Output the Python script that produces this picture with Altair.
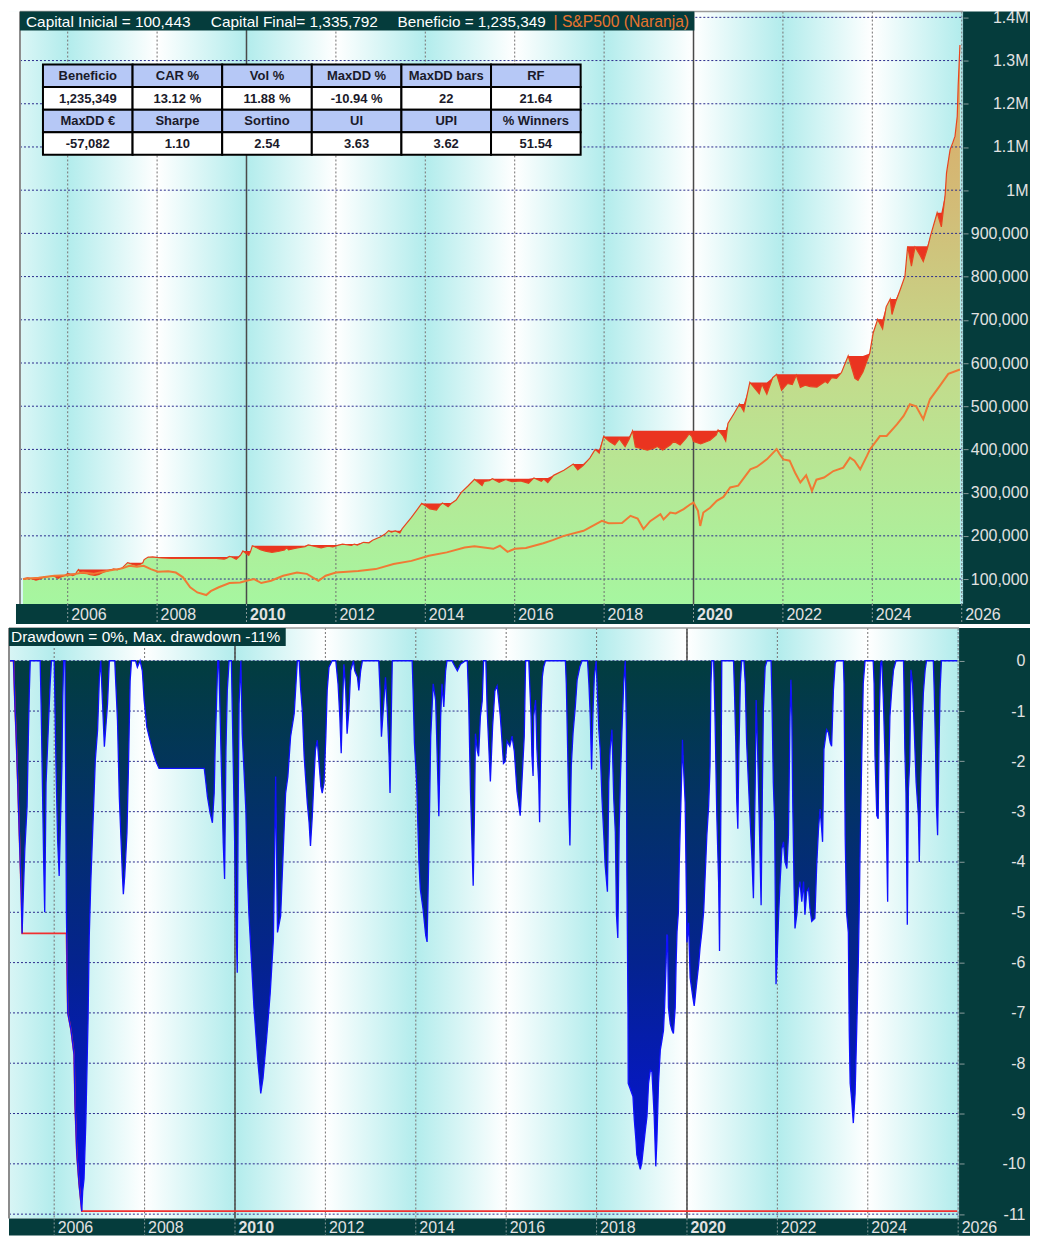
import altair as alt
import pandas as pd
import numpy as np

# ---------------- data ----------------
eq_years = [2005.00, 2005.10, 2005.19, 2005.29, 2005.35, 2005.47, 2005.69, 2005.74, 2005.79, 2005.85,
            2005.94, 2006.00, 2006.11, 2006.17, 2006.21, 2006.24, 2006.30, 2006.44, 2006.50, 2006.61,
            2006.70, 2006.75, 2006.81, 2006.91, 2007.03, 2007.11, 2007.22, 2007.34, 2007.44, 2007.53,
            2007.61, 2007.68, 2007.71, 2007.80, 2007.84, 2007.90, 2007.99, 2008.10, 2008.32, 2009.32,
            2009.50, 2009.56, 2009.62, 2009.67, 2009.77, 2009.83, 2009.87, 2009.92, 2010.02, 2010.05,
            2010.09, 2010.13, 2010.24, 2010.31, 2010.42, 2010.57, 2010.70, 2010.85, 2010.90, 2010.94,
            2011.08, 2011.17, 2011.31, 2011.38, 2011.53, 2011.67, 2011.82, 2011.93, 2012.04, 2012.15,
            2012.35, 2012.41, 2012.48, 2012.62, 2012.74, 2012.82, 2013.00, 2013.10, 2013.18, 2013.24,
            2013.33, 2013.43, 2013.48, 2013.69, 2013.92, 2014.02, 2014.10, 2014.25, 2014.33, 2014.385,
            2014.51, 2014.58, 2014.69, 2014.80, 2014.96, 2015.10, 2015.27, 2015.32, 2015.43, 2015.50,
            2015.65, 2015.80, 2015.94, 2016.13, 2016.31, 2016.43, 2016.595, 2016.65, 2016.74, 2016.87,
            2017.10, 2017.31, 2017.41, 2017.53, 2017.68, 2017.80, 2017.89, 2017.99, 2018.12, 2018.24,
            2018.34, 2018.47, 2018.56, 2018.635, 2018.70, 2018.967, 2019.115, 2019.19, 2019.31, 2019.48,
            2019.556, 2019.70, 2019.83, 2019.90, 2019.96, 2020.00, 2020.16, 2020.37, 2020.51, 2020.55,
            2020.66, 2020.72, 2020.77, 2020.90, 2021.03, 2021.125, 2021.21, 2021.26, 2021.47, 2021.53,
            2021.64, 2021.77, 2021.86, 2021.97, 2022.10, 2022.21, 2022.30, 2022.39, 2022.50, 2022.61,
            2022.76, 2022.945, 2023.00, 2023.09, 2023.20, 2023.31, 2023.46, 2023.61, 2023.68, 2023.79,
            2023.94, 2024.02, 2024.12, 2024.23, 2024.31, 2024.40, 2024.44, 2024.53, 2024.625, 2024.73,
            2024.79, 2024.875, 2024.955, 2025.07, 2025.14, 2025.23, 2025.30, 2025.45, 2025.545, 2025.63,
            2025.66, 2025.74, 2025.80, 2025.85, 2025.90, 2025.92, 2025.96]
eq_values = [100443, 103000, 100600, 97400, 99100, 104500, 107000, 104300, 101650, 105100,
             108500, 113000, 108200, 110600, 118000, 122000, 113500, 112500, 110000, 108650,
             110800, 113300, 116600, 119600, 123500, 121400, 126000, 138000, 134300, 131600,
             133300, 137400, 145000, 151000, 150800, 151200, 150000, 148900, 148000, 148000,
             146300, 148500, 152500, 150900, 145900, 151600, 156000, 165000, 156600, 154800,
             163600, 177000, 171800, 168000, 164800, 161800, 163700, 167200, 172900, 167400,
             170800, 172900, 175100, 179000, 175600, 172400, 176200, 174300, 178000, 181000,
             177700, 180900, 178400, 185000, 183900, 190000, 198000, 204000, 212000, 208800,
             211300, 206400, 216000, 242600, 275000, 268300, 262500, 259600, 270800, 276000,
             267500, 274700, 283000, 300000, 316000, 331000, 316200, 326200, 327400, 332000,
             324000, 330300, 325200, 327000, 321800, 334000, 326400, 331400, 323300, 340000,
             352000, 366000, 352600, 362700, 380000, 400000, 391400, 430000, 418200, 410300,
             424100, 406300, 423800, 443000, 405800, 398200, 402900, 407000, 398500, 410400,
             418900, 410200, 425300, 436000, 430500, 418200, 412600, 421000, 433700, 445000,
             431300, 419300, 460000, 482000, 505000, 488100, 531600, 555000, 528800, 550700,
             528000, 566000, 574000, 537100, 552500, 550300, 571800, 543500, 548800, 545000,
             544300, 557100, 553300, 566100, 564200, 578000, 616500, 564700, 559800, 579300,
             622000, 670000, 701000, 679000, 730000, 748000, 712200, 743700, 770000, 801000,
             870000, 824300, 868400, 849000, 835200, 864000, 893700, 947800, 914900, 990000,
             1040000, 1094000, 1110000, 1125000, 1171000, 1240600, 1335792]

sp_years = [2005.00, 2005.35, 2005.70, 2006.00, 2006.34, 2006.57, 2006.90, 2007.22, 2007.38, 2007.55,
            2007.70, 2007.86, 2008.02, 2008.25, 2008.42, 2008.58, 2008.74, 2008.90, 2009.10, 2009.20,
            2009.38, 2009.62, 2009.86, 2010.00, 2010.17, 2010.33, 2010.55, 2010.82, 2011.13, 2011.35,
            2011.61, 2011.77, 2012.00, 2012.25, 2012.50, 2012.89, 2013.29, 2013.69, 2014.08, 2014.48,
            2014.88, 2015.10, 2015.52, 2015.67, 2015.84, 2016.00, 2016.25, 2016.64, 2016.85, 2017.10,
            2017.54, 2017.95, 2018.10, 2018.40, 2018.59, 2018.75, 2018.88, 2019.03, 2019.26, 2019.33,
            2019.48, 2019.60, 2019.78, 2019.93, 2020.00, 2020.10, 2020.15, 2020.22, 2020.37, 2020.52,
            2020.67, 2020.82, 2021.00, 2021.27, 2021.42, 2021.64, 2021.86, 2021.92, 2022.01, 2022.15,
            2022.27, 2022.39, 2022.52, 2022.65, 2022.75, 2022.92, 2023.13, 2023.35, 2023.50, 2023.60,
            2023.73, 2023.88, 2023.95, 2024.17, 2024.32, 2024.55, 2024.70, 2024.84, 2024.98, 2025.14,
            2025.29, 2025.51, 2025.70, 2025.96]
sp_values = [100000, 103000, 107700, 108500, 115000, 112000, 119000, 124700, 130800, 128500,
             130800, 123000, 117000, 118000, 115000, 104000, 81000, 69000, 63000, 72000,
             81000, 90700, 92000, 96000, 100000, 90700, 96000, 107700, 115000, 112000,
             96000, 107700, 115000, 117000, 118500, 123000, 134700, 142000, 153900, 161700,
             173000, 176000, 170000, 177000, 163000, 170000, 172000, 183000, 190000, 200000,
             211700, 234800, 229000, 229500, 246400, 240000, 215600, 234000, 250000, 238000,
             254000, 252000, 261800, 273000, 277000, 258000, 223000, 254000, 265000, 281000,
             290000, 312000, 316000, 354000, 360000, 377000, 400600, 390000, 377000, 374000,
             346700, 323600, 340000, 304000, 330000, 335000, 350000, 358000, 381000, 374000,
             354000, 385000, 400600, 431000, 431000, 458000, 477600, 504600, 500000, 470000,
             516000, 547000, 575000, 585000]

dd_years = [2005.00, 2005.10, 2005.13, 2005.155, 2005.19, 2005.23, 2005.27, 2005.29, 2005.32, 2005.35,
            2005.40, 2005.43, 2005.45, 2005.47, 2005.69, 2005.71, 2005.74, 2005.77, 2005.79, 2005.82,
            2005.85, 2005.91, 2005.94, 2006.00, 2006.04, 2006.075, 2006.11, 2006.13, 2006.17, 2006.19,
            2006.21, 2006.24, 2006.27, 2006.30, 2006.37, 2006.44, 2006.46, 2006.50, 2006.55, 2006.61,
            2006.63, 2006.66, 2006.70, 2006.75, 2006.775, 2006.81, 2006.91, 2006.96, 2007.00, 2007.03,
            2007.07, 2007.11, 2007.18, 2007.22, 2007.34, 2007.36, 2007.40, 2007.44, 2007.475, 2007.51,
            2007.53, 2007.56, 2007.61, 2007.645, 2007.68, 2007.71, 2007.80, 2007.84, 2007.90, 2007.95,
            2007.99, 2008.05, 2008.10, 2008.175, 2008.25, 2008.32, 2009.32, 2009.35, 2009.39, 2009.45,
            2009.50, 2009.54, 2009.56, 2009.60, 2009.62, 2009.64, 2009.67, 2009.70, 2009.74, 2009.77,
            2009.80, 2009.83, 2009.87, 2009.92, 2009.98, 2010.02, 2010.05, 2010.07, 2010.09, 2010.13,
            2010.16, 2010.24, 2010.27, 2010.31, 2010.36, 2010.42, 2010.50, 2010.57, 2010.62, 2010.70,
            2010.78, 2010.85, 2010.90, 2010.94, 2011.01, 2011.08, 2011.12, 2011.17, 2011.23, 2011.31,
            2011.38, 2011.42, 2011.45, 2011.49, 2011.53, 2011.56, 2011.60, 2011.64, 2011.67, 2011.71,
            2011.75, 2011.78, 2011.82, 2011.86, 2011.90, 2011.93, 2011.97, 2012.01, 2012.04, 2012.08,
            2012.15, 2012.23, 2012.28, 2012.32, 2012.35, 2012.37, 2012.40, 2012.41, 2012.45, 2012.48,
            2012.52, 2012.56, 2012.62, 2012.65, 2012.71, 2012.74, 2012.78, 2012.82, 2013.18, 2013.21,
            2013.24, 2013.28, 2013.33, 2013.37, 2013.41, 2013.43, 2013.46, 2013.48, 2013.92, 2013.94,
            2013.97, 2014.02, 2014.07, 2014.10, 2014.16, 2014.22, 2014.25, 2014.29, 2014.33, 2014.385,
            2014.44, 2014.47, 2014.51, 2014.55, 2014.58, 2014.62, 2014.66, 2014.69, 2014.80, 2014.84,
            2014.92, 2014.99, 2015.10, 2015.14, 2015.17, 2015.21, 2015.247, 2015.27, 2015.30, 2015.32,
            2015.36, 2015.39, 2015.43, 2015.47, 2015.50, 2015.55, 2015.58, 2015.65, 2015.70, 2015.75,
            2015.80, 2015.87, 2015.94, 2015.98, 2016.02, 2016.08, 2016.13, 2016.18, 2016.24, 2016.31,
            2016.36, 2016.40, 2016.43, 2016.50, 2016.52, 2016.55, 2016.57, 2016.595, 2016.61, 2016.65,
            2016.68, 2016.72, 2016.74, 2016.77, 2016.80, 2016.83, 2016.87, 2017.31, 2017.33, 2017.36,
            2017.38, 2017.41, 2017.44, 2017.48, 2017.53, 2017.57, 2017.63, 2017.68, 2017.80, 2017.83,
            2017.86, 2017.89, 2017.92, 2017.95, 2017.99, 2018.01, 2018.05, 2018.08, 2018.12, 2018.16,
            2018.19, 2018.24, 2018.27, 2018.30, 2018.34, 2018.38, 2018.415, 2018.44, 2018.47, 2018.50,
            2018.525, 2018.56, 2018.60, 2018.635, 2018.66, 2018.67, 2018.695, 2018.70, 2018.805, 2018.835,
            2018.87, 2018.89, 2018.93, 2018.967, 2019.00, 2019.04, 2019.08, 2019.115, 2019.15, 2019.19,
            2019.225, 2019.275, 2019.31, 2019.335, 2019.37, 2019.41, 2019.445, 2019.48, 2019.505, 2019.535,
            2019.556, 2019.57, 2019.59, 2019.63, 2019.67, 2019.70, 2019.74, 2019.76, 2019.78, 2019.81,
            2019.83, 2019.89, 2019.90, 2019.92, 2019.96, 2020.00, 2020.035, 2020.07, 2020.13, 2020.16,
            2020.22, 2020.26, 2020.29, 2020.33, 2020.37, 2020.44, 2020.48, 2020.51, 2020.53, 2020.55,
            2020.59, 2020.62, 2020.66, 2020.70, 2020.72, 2020.75, 2020.77, 2021.03, 2021.05, 2021.08,
            2021.10, 2021.125, 2021.15, 2021.18, 2021.21, 2021.26, 2021.29, 2021.32, 2021.36, 2021.40,
            2021.435, 2021.47, 2021.51, 2021.53, 2021.56, 2021.58, 2021.62, 2021.64, 2021.67, 2021.69,
            2021.73, 2021.77, 2021.86, 2021.88, 2021.91, 2021.94, 2021.96, 2021.97, 2022.00, 2022.03,
            2022.06, 2022.10, 2022.135, 2022.17, 2022.21, 2022.245, 2022.28, 2022.30, 2022.32, 2022.34,
            2022.37, 2022.39, 2022.43, 2022.47, 2022.50, 2022.54, 2022.58, 2022.61, 2022.65, 2022.69,
            2022.72, 2022.76, 2022.83, 2022.87, 2022.91, 2022.945, 2022.98, 2023.00, 2023.03, 2023.09,
            2023.13, 2023.17, 2023.20, 2023.24, 2023.28, 2023.31, 2023.46, 2023.475, 2023.50, 2023.53,
            2023.57, 2023.59, 2023.61, 2023.645, 2023.68, 2023.72, 2023.755, 2023.79, 2023.81, 2023.83,
            2023.87, 2023.90, 2023.94, 2024.12, 2024.14, 2024.16, 2024.20, 2024.23, 2024.255, 2024.285,
            2024.31, 2024.345, 2024.38, 2024.42, 2024.44, 2024.46, 2024.49, 2024.53, 2024.57, 2024.625,
            2024.79, 2024.80, 2024.82, 2024.845, 2024.875, 2024.90, 2024.93, 2024.955, 2024.99, 2025.03,
            2025.07, 2025.12, 2025.14, 2025.17, 2025.20, 2025.23, 2025.27, 2025.30, 2025.45, 2025.47,
            2025.50, 2025.52, 2025.545, 2025.575, 2025.60, 2025.63, 2025.98]
dd_values = [0, 0, -0.86, -1.41, -2.34, -3.49, -4.6, -5.42, -4.54, -3.75,
             -2.9, -1.45, -0.6, 0, 0, -0.86, -2.5, -4.14, -5.0, -2.43,
             -1.78, -0.46, 0, 0, -2.1, -3.55, -4.28, -3.55, -2.1, -0.72,
             0, 0, -5.0, -7.0, -7.33, -7.83, -8.8, -9.8, -10.4, -10.94,
             -10.55, -10.3, -9.17, -7.1, -5.5, -4.4, -1.97, -1.38, -0.33, 0,
             -0.86, -1.71, -0.86, 0, 0, -0.4, -1.18, -2.7, -3.49, -4.28,
             -4.64, -4.28, -3.42, -2.04, -0.4, 0, 0, -0.13, 0, -0.2,
             -0.79, -1.32, -1.51, -1.78, -2.0, -2.14, -2.14, -2.37, -2.7, -3.03,
             -3.22, -2.63, -1.78, -0.59, 0, 0, -1.05, -2.17, -3.62, -4.34,
             -1.78, -0.59, 0, 0, -2.96, -5.07, -6.2, -3.0, -0.86, 0,
             -1.45, -2.96, -4.14, -5.07, -5.9, -6.9, -7.9, -8.6, -8.3, -7.5,
             -6.6, -5.53, -2.3, -5.4, -5.07, -3.49, -2.63, -2.3, -1.51, -1.05,
             0, 0, -0.53, -1.0, -1.9, -2.3, -2.83, -3.22, -3.68, -3.09,
             -2.3, -1.78, -1.58, -2.04, -2.5, -2.63, -2.43, -1.51, -0.59, -0.13,
             0, 0, -0.46, -1.12, -1.84, -1.12, -0.33, -0.07, -0.59, -1.45,
             -0.99, -0.2, 0, -0.2, -0.33, -0.59, -0.2, 0, 0, -0.59,
             -1.51, -0.99, -0.33, -0.99, -1.91, -2.63, -1.0, 0, 0, -0.59,
             -1.64, -2.43, -4.01, -4.54, -4.93, -5.46, -5.59, -3.75, -1.51, -0.46,
             -0.79, -1.78, -3.09, -1.12, -0.46, -0.92, -0.2, 0, 0, -0.07,
             -0.2, -0.07, 0, 0, -0.8, -2.57, -3.75, -4.47, -2.9, -1.45,
             -1.78, -1.9, -1.1, -0.8, 0, 0, -1.0, -2.4, -1.3, -0.6,
             -0.5, -1.1, -2.04, -2.0, -1.6, -1.7, -1.5, -1.8, -2.6, -3.08,
             -2.2, -1.5, 0, 0, -0.45, -1.1, -1.9, -2.29, -1.1, -0.78,
             -1.76, -2.42, -3.21, -1.1, -0.32, -0.12, 0, 0, -0.45, -1.76,
             -2.75, -3.67, -2.09, -1.43, -0.91, -0.38, -0.12, 0, 0, -0.45,
             -1.1, -2.16, -1.04, -0.32, 0, -0.45, -1.37, -1.76, -2.75, -3.47,
             -4.07, -4.59, -2.42, -1.76, -1.37, -2.75, -3.41, -5.05, -5.51, -3.34,
             -2.42, -1.43, -0.45, 0, -1.37, -4.13, -6.99, -8.4, -8.66, -9.13,
             -9.52, -9.82, -9.98, -10.11, -9.98, -9.65, -9.32, -9.06, -8.4, -8.14,
             -8.17, -9.06, -10.05, -9.52, -8.4, -7.74, -7.55, -7.35, -6.89, -6.1,
             -5.44, -5.47, -6.89, -7.22, -7.35, -7.41, -6.89, -6.0, -5.38, -5.0,
             -4.0, -2.03, -1.57, -2.03, -2.82, -5.6, -5.21, -6.3, -6.69, -6.86,
             -6.36, -6.03, -5.7, -5.38, -4.98, -3.47, -2.88, -2.09, -0.45, 0,
             0, -1.1, -3.08, -4.39, -5.77, -3.0, 0, 0, -0.58, -1.63,
             -2.75, -3.34, -1.76, -0.45, 0, 0, -0.45, -1.63, -2.42, -3.21,
             -3.87, -4.72, -2.42, -0.78, -1.7, -2.42, -4.0, -4.86, -2.42, -0.97,
             -0.12, 0, 0, -0.78, -2.42, -3.21, -5.38, -6.43, -5.77, -5.0,
             -4.39, -3.74, -3.6, -4.0, -4.13, -3.47, -1.1, -0.38, -1.1, -2.82,
             -4.53, -5.32, -5.05, -4.53, -4.39, -4.79, -4.39, -5.05, -4.59, -4.53,
             -4.92, -5.18, -5.12, -4.07, -3.34, -2.95, -3.34, -3.6, -1.76, -1.37,
             -1.43, -1.63, -1.7, -0.58, -0.05, 0, 0, -0.45, -3.47, -5.0,
             -5.4, -7.35, -8.4, -8.73, -9.19, -8.6, -7.35, -6.03, -5.0, -3.74,
             -1.76, -0.45, 0, 0, -0.45, -1.89, -3.08, -3.14, -1.1, -0.05,
             0, -0.78, -1.89, -3.74, -4.79, -2.42, -1.1, -0.58, -0.18, 0,
             0, -0.45, -1.76, -2.62, -5.25, -2.55, -1.96, -0.18, -0.45, -1.43,
             -2.42, -3.08, -4.0, -2.42, -1.43, -0.64, -0.18, 0, 0, -0.58,
             -1.76, -2.88, -3.47, -1.76, -0.58, 0, 0]

year_ticks = list(range(2006, 2027, 2))
eq_ticks = list(range(100000, 1400001, 100000))
dd_ticks = list(range(0, -12, -1))
stripe_rise_starts = [2004, 2008, 2012, 2016, 2020, 2024]
stripe_fall_starts = [2002, 2006, 2010, 2014, 2018, 2022, 2026]

table_hdr1 = ["Beneficio", "CAR %", "Vol %", "MaxDD %", "MaxDD bars", "RF"]
table_val1 = ["1,235,349", "13.12 %", "11.88 %", "-10.94 %", "22", "21.64"]
table_hdr2 = ["MaxDD €", "Sharpe", "Sortino", "UI", "UPI", "% Winners"]
table_val2 = ["-57,082", "1.10", "2.54", "3.63", "3.62", "51.54"]
title_parts = ["Capital Inicial = 100,443", "Capital Final= 1,335,792",
               "Beneficio = 1,235,349", "| S&P500 (Naranja)"]
dd_title = "Drawdown = 0%, Max. drawdown -11%"

# ---------------- layout / style ----------------
FONT = "Liberation Sans"
DARK = "#053c3c"
CYAN = "#b2ecec"
LABEL = "#e2e2e2"
W1, H1 = 955, 593      # top plot (its first 11 px are page margin, covered white)
LM1 = 11               # left white strip of the top panel
W2, H2 = 951, 591
RX1, RX2 = 67, 71      # right axis strips (page is 1022 px wide inside the margins)
BAND1, BAND2 = 20, 17
X1D = [2004.687, 2026.03]
Y1D = [42200, 1413300]
X2D = [2005.0, 2026.02]
Y2D = [-11.085, 0.651]

xs1 = alt.Scale(domain=X1D, nice=False, zero=False)
ys1 = alt.Scale(domain=Y1D, nice=False, zero=False)
xs2 = alt.Scale(domain=X2D, nice=False, zero=False)
ys2 = alt.Scale(domain=Y2D, nice=False, zero=False)

one = pd.DataFrame({"a": [0]})


def lin_grad(stops, horizontal):
    return alt.LinearGradient(
        gradient="linear",
        stops=[alt.GradientStop(color=c, offset=o) for o, c in stops],
        x1=0, x2=1 if horizontal else 0, y1=0, y2=0 if horizontal else 1)


def x_axis(band, pad):
    return alt.Axis(values=year_ticks, labelExpr="'' + datum.value", title=None, grid=False,
                    domain=False, ticks=False, orient="bottom", labelAlign="left",
                    labelBaseline="top", labelPadding=pad, labelOffset=3, labelFont=FONT,
                    labelFontSize=16, labelColor=LABEL, labelFlush=False, labelOverlap=False,
                    labelFontWeight={"condition": {"test": "datum.value % 10 === 0", "value": "bold"},
                                     "value": "normal"},
                    minExtent=band, maxExtent=band, zindex=1)


def y_axis(values, expr, rx, pad):
    return alt.Axis(orient="right", values=values, labelExpr=expr, title=None, grid=False,
                    domain=False, ticks=True, tickSize=5, tickColor="#8a9c9c",
                    labelAlign="right", labelBaseline="middle", labelPadding=pad, labelFont=FONT,
                    labelFontSize=16, labelColor=LABEL, labelOverlap=False, labelFlush=False,
                    minExtent=rx, maxExtent=rx, zindex=1)


xa1 = x_axis(BAND1, 2)
xa2 = x_axis(BAND2, 1)
ya1 = y_axis(eq_ticks,
             "datum.value >= 1000000 ? format(datum.value / 1000000, '.1~f') + 'M' : format(datum.value, ',')",
             RX1, RX1 - 7)
ya2 = y_axis(dd_ticks, "'' + datum.value", RX2, RX2 - 10)


def X(field, xs, xa):
    return alt.X(field, scale=xs, axis=xa)


def Y(field, ys, ya):
    return alt.Y(field, scale=ys, axis=ya)


def stripes(xs, xa, H):
    rise = pd.DataFrame({"s": stripe_rise_starts, "e": [s + 2 for s in stripe_rise_starts]})
    fall = pd.DataFrame({"s": stripe_fall_starts, "e": [s + 2 for s in stripe_fall_starts]})
    a = alt.Chart(rise).mark_rect(fill=lin_grad([(0, "#ffffff"), (1, CYAN)], True), clip=True,
                                  strokeWidth=0).encode(
        x=X("s:Q", xs, xa), x2="e:Q", y=alt.value(0), y2=alt.value(H))
    b = alt.Chart(fall).mark_rect(fill=lin_grad([(0, CYAN), (1, "#ffffff")], True), clip=True,
                                  strokeWidth=0).encode(
        x=X("s:Q", xs, xa), x2="e:Q", y=alt.value(0), y2=alt.value(H))
    return [a, b]


def vgrid(xs, xa, H):
    major = [y for y in year_ticks if y % 10 == 0]
    g = alt.Chart(pd.DataFrame({"yr": year_ticks})).mark_rule(
        color="#707070", strokeDash=[2, 2], strokeWidth=1).encode(
        x=X("yr:Q", xs, xa), y=alt.value(0), y2=alt.value(H))
    m = alt.Chart(pd.DataFrame({"yr": major})).mark_rule(color="#4a4a4a", strokeWidth=1.5).encode(
        x=X("yr:Q", xs, xa), y=alt.value(0), y2=alt.value(H))
    return [g, m]


def hgrid(values, ys, ya, x0, W):
    return alt.Chart(pd.DataFrame({"v": values})).mark_rule(
        color="#2a2a8c", strokeDash=[2, 2], strokeWidth=1).encode(
        y=Y("v:Q", ys, ya), x=alt.value(x0), x2=alt.value(W))


def band_layers(xs, xa, W, H, RX, band, left):
    right = alt.Chart(one).mark_rect(fill=DARK).encode(
        x=alt.value(W), x2=alt.value(W + RX), y=alt.value(0), y2=alt.value(H + band))
    bottom = alt.Chart(one).mark_rect(fill=DARK).encode(
        x=alt.value(left), x2=alt.value(W + RX), y=alt.value(H), y2=alt.value(H + band))
    ticks = alt.Chart(pd.DataFrame({"yr": year_ticks})).mark_rule(
        color="#8a9a9a", strokeDash=[2, 2], strokeWidth=1).encode(
        x=X("yr:Q", xs, xa), y=alt.value(H), y2=alt.value(H + band))
    return [right, bottom, ticks]


def borders(x0, W, H):
    lft = alt.Chart(one).mark_rule(color="#8c8c8c", strokeWidth=2).encode(
        x=alt.value(x0), y=alt.value(0), y2=alt.value(H))
    top = alt.Chart(one).mark_rule(color="#9a9a9a", strokeWidth=1.5).encode(
        x=alt.value(x0), x2=alt.value(W), y=alt.value(0))
    rgt = alt.Chart(one).mark_rule(color="#7f9fb0", strokeDash=[1, 1], strokeWidth=1).encode(
        x=alt.value(W - 1), y=alt.value(0), y2=alt.value(H))
    return [lft, top, rgt]


# ---------------- top panel ----------------
eq_df = pd.DataFrame({"t": eq_years, "v": eq_values})
eq_df["peak"] = eq_df["v"].cummax()
sp_df = pd.DataFrame({"t": sp_years, "v": sp_values})

green = alt.Chart(eq_df).mark_area(
    fill=lin_grad([(0, "#dca664"), (0.3, "#d2bd78"), (0.6, "#c2dc8c"), (1, "#a6f6a0")], False),
    clip=True, strokeWidth=0).encode(
    x=X("t:Q", xs1, xa1), y=Y("v:Q", ys1, ya1), y2=alt.datum(Y1D[0]))

red = alt.Chart(eq_df).mark_area(color="#ea3420", clip=True).encode(
    x=X("t:Q", xs1, xa1), y=Y("v:Q", ys1, ya1), y2="peak:Q")

eq_line = alt.Chart(eq_df).mark_line(color="#e8441e", strokeWidth=1.2, clip=True).encode(
    x=X("t:Q", xs1, xa1), y=Y("v:Q", ys1, ya1))

sp_line = alt.Chart(sp_df).mark_line(color="#f07a34", strokeWidth=2, clip=True).encode(
    x=X("t:Q", xs1, xa1), y=Y("v:Q", ys1, ya1))

white_strip = alt.Chart(one).mark_rect(fill="#ffffff").encode(
    x=alt.value(0), x2=alt.value(LM1), y=alt.value(0), y2=alt.value(H1))

# table
TX, TY, CW, RH = LM1 + 23, 53, 89.7, 22.6
cells = []
for r, row in enumerate([table_hdr1, table_val1, table_hdr2, table_val2]):
    for c, txt in enumerate(row):
        cells.append(dict(x0=TX + c * CW, x1=TX + (c + 1) * CW, y0=TY + r * RH, y1=TY + (r + 1) * RH,
                          xc=TX + (c + 0.5) * CW, yc=TY + (r + 0.5) * RH + 0.5,
                          fill="#b6c8f6" if r % 2 == 0 else "#ffffff", txt=txt))
cells = pd.DataFrame(cells)
table_rect = alt.Chart(cells).mark_rect(stroke="#000000", strokeWidth=2).encode(
    x=alt.X("x0:Q", scale=None), x2="x1:Q", y=alt.Y("y0:Q", scale=None), y2="y1:Q",
    fill=alt.Fill("fill:N", scale=None))
table_text = alt.Chart(cells).mark_text(font=FONT, fontSize=13, fontWeight="bold",
                                        color="#1a1a2a", baseline="middle").encode(
    x=alt.X("xc:Q", scale=None), y=alt.Y("yc:Q", scale=None), text="txt:N")

# title bar
title_df = pd.DataFrame({"txt": title_parts,
                         "px": [LM1 + 6, LM1 + 191, LM1 + 378, LM1 + 534],
                         "col": ["#ffffff", "#ffffff", "#ffffff", "#e8742e"],
                         "fs": [15.4, 15.4, 15.3, 15.7]})
title_box = alt.Chart(one).mark_rect(fill=DARK).encode(
    x=alt.value(LM1), x2=alt.value(LM1 + 675), y=alt.value(0), y2=alt.value(19))
title_txt = alt.Chart(title_df).mark_text(font=FONT, align="left", baseline="middle").encode(
    x=alt.X("px:Q", scale=None), y=alt.value(10), text="txt:N",
    color=alt.Color("col:N", scale=None), size=alt.Size("fs:Q", scale=None))

top_layers = (stripes(xs1, xa1, H1) + [green, hgrid(eq_ticks, ys1, ya1, LM1, W1)] +
              vgrid(xs1, xa1, H1) + [red, eq_line, sp_line, white_strip] + borders(LM1, W1, H1) +
              [table_rect, table_text, title_box, title_txt] +
              band_layers(xs1, xa1, W1, H1, RX1, BAND1, 7))
top = alt.layer(*top_layers).properties(width=W1, height=H1)

# ---------------- bottom panel ----------------
dd_df = pd.DataFrame({"t": dd_years, "d": dd_values})
dd_df["mx"] = np.minimum.accumulate(dd_df["d"].values)

dd_area = alt.Chart(dd_df).mark_area(
    fill=lin_grad([(0, "#023d3f"), (0.3, "#03306c"), (0.55, "#04238f"), (0.8, "#0618c2"),
                   (1, "#080cf4")], False),
    clip=True, strokeWidth=0).encode(
    x=X("t:Q", xs2, xa2), y=Y("d:Q", ys2, ya2), y2=alt.datum(0))

mx_line = alt.Chart(dd_df).mark_line(color="#f03030", strokeWidth=1.6, clip=True).encode(
    x=X("t:Q", xs2, xa2), y=Y("mx:Q", ys2, ya2))

dd_line = alt.Chart(dd_df).mark_line(color="#1010ff", strokeWidth=1.3, clip=True).encode(
    x=X("t:Q", xs2, xa2), y=Y("d:Q", ys2, ya2))

dd_box = alt.Chart(one).mark_rect(fill=DARK).encode(
    x=alt.value(0), x2=alt.value(277), y=alt.value(0), y2=alt.value(18))
dd_txt = alt.Chart(pd.DataFrame({"txt": [dd_title]})).mark_text(
    font=FONT, fontSize=15.5, align="left", baseline="middle", color="#ffffff").encode(
    x=alt.value(2), y=alt.value(9.5), text="txt:N")

bottom_layers = (stripes(xs2, xa2, H2) + [hgrid(dd_ticks, ys2, ya2, 0, W2)] +
                 vgrid(xs2, xa2, H2) + [dd_area, mx_line, dd_line] + borders(0, W2, H2) +
                 [dd_box, dd_txt] + band_layers(xs2, xa2, W2, H2, RX2, BAND2, 0))
bottom = alt.layer(*bottom_layers).properties(width=W2, height=H2)

chart = alt.vconcat(top, bottom, spacing=2).resolve_scale(
    x="independent", y="independent").properties(
    padding={"left": 0, "top": 0, "right": 0, "bottom": 0}, background="#ffffff"
).configure_view(stroke=None)

chart.save("out.html", embed_options={"renderer": "svg", "actions": False})
